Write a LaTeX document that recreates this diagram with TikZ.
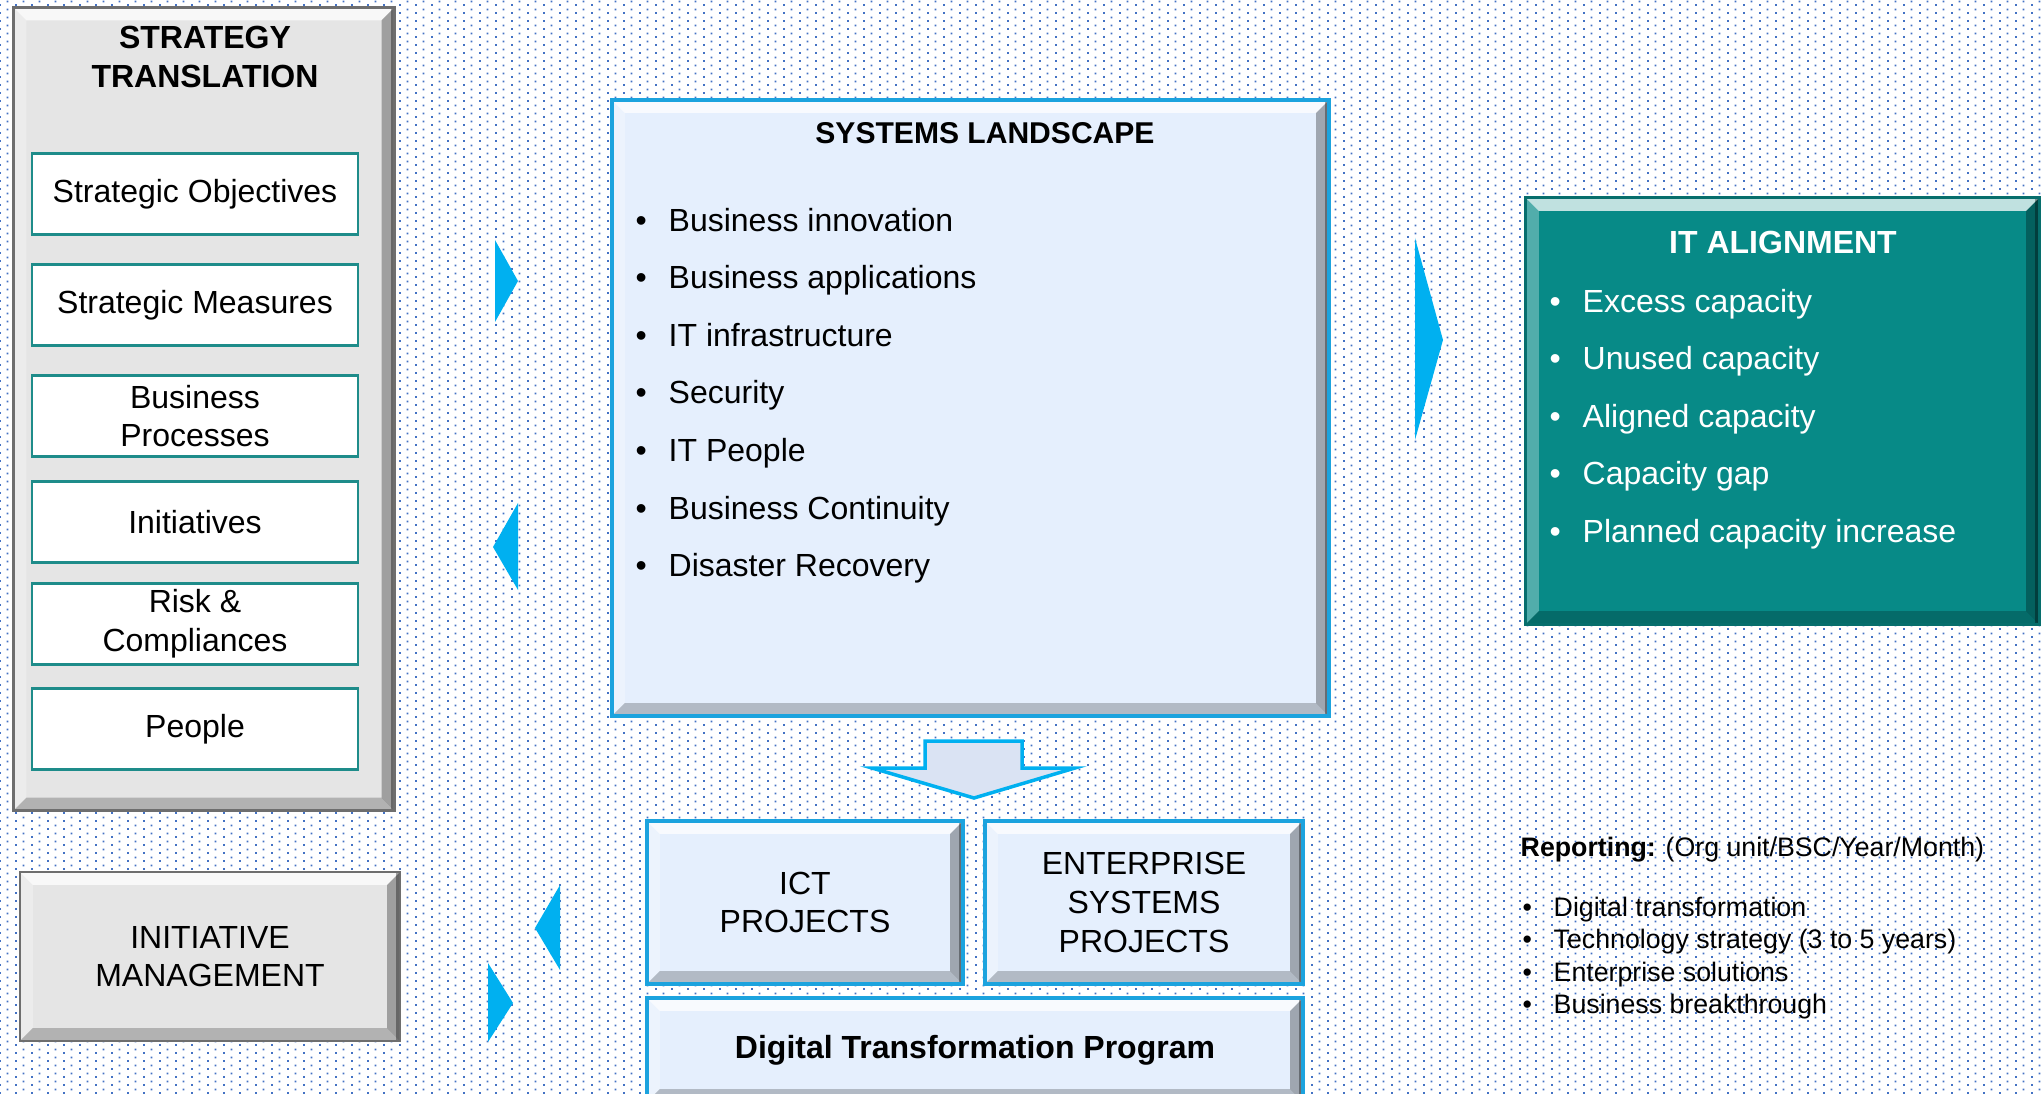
\documentclass[tikz,border=0pt]{standalone}
\usepackage{fontspec}
\setmainfont{Liberation Sans}
\usetikzlibrary{calc,patterns.meta,positioning}

\definecolor{dotblue}{HTML}{4472C4}
\definecolor{panelgray}{HTML}{E5E5E5}
\definecolor{edgegray}{HTML}{6E6E6E}
\definecolor{tealline}{HTML}{1E8C8A}
\definecolor{skyfill}{HTML}{E5EFFD}
\definecolor{skyline}{HTML}{1CA3DE}
\definecolor{tealfill}{HTML}{078A87}
\definecolor{arrowcyan}{HTML}{00B0F0}
\definecolor{downfill}{HTML}{DAE3F3}

\tikzdeclarepattern{
  name=bgdots, type=uncolored,
  bounding box={(0,0) and (1.6mm,0.8mm)},
  tile size={(1.6mm,0.8mm)},
  code={
    \fill (0mm,0mm) rectangle (0.2mm,0.2mm);
    \fill (0.8mm,0.4mm) rectangle (1.0mm,0.6mm);
  }
}

% bevel faces, drawn inside a box
\newcommand{\bevw}{1.3mm}
\newcommand{\bevelfaces}{%
  \fill[white,opacity=.75] let \p1=(path picture bounding box.north west),
      \p2=(path picture bounding box.south east) in
    (\x1,\y1) -- (\x2,\y1) -- (\x2-\bevw,\y1-\bevw) -- (\x1+\bevw,\y1-\bevw) -- cycle;
  \fill[white,opacity=.3] let \p1=(path picture bounding box.north west),
      \p2=(path picture bounding box.south east) in
    (\x1,\y1) -- (\x1,\y2) -- (\x1+\bevw,\y2+\bevw) -- (\x1+\bevw,\y1-\bevw) -- cycle;
  \fill[black,opacity=.22] let \p1=(path picture bounding box.north west),
      \p2=(path picture bounding box.south east) in
    (\x1,\y2) -- (\x2,\y2) -- (\x2-\bevw,\y2+\bevw) -- (\x1+\bevw,\y2+\bevw) -- cycle;
  \fill[black,opacity=.3] let \p1=(path picture bounding box.north west),
      \p2=(path picture bounding box.south east) in
    (\x2,\y1) -- (\x2,\y2) -- (\x2-\bevw,\y2+\bevw) -- (\x2-\bevw,\y1-\bevw) -- cycle;
  \fill[black,opacity=.35] let \p1=(path picture bounding box.north west),
      \p2=(path picture bounding box.south east) in
    (\x2-0.4mm,\y1) rectangle (\x2,\y2);
}

\tikzset{
  every node/.style={font=\fontsize{9.1}{11}\selectfont, align=center, inner sep=0pt},
  graybox/.style={draw=edgegray, line width=0.25mm, fill=panelgray, path picture=\bevelfaces},
  skybox/.style={draw=skyline, line width=0.35mm, fill=skyfill, path picture=\bevelfaces},
  tealbox/.style={draw=tealfill!80!black, line width=0.3mm, fill=tealfill, path picture=\bevelfaces},
  itembox/.style={draw=tealline, line width=0.25mm, fill=white, minimum width=32.6mm, minimum height=8.1mm},
  boxtitle/.style={font=\fontsize{9.1}{11}\selectfont\bfseries},
  listitem/.style={anchor=west, text height=1.6ex, text depth=.4ex},
  smalltext/.style={font=\fontsize{7.6}{9}\selectfont},
  pointer/.style={fill=arrowcyan},
}

\begin{document}
\begin{tikzpicture}[x=0.01cm, y=-0.01cm]
\useasboundingbox (0,0) rectangle (2041,1094);
\fill[white] (0,0) rectangle (2041,1094);
\fill[pattern=bgdots, pattern color=dotblue] (0,0) rectangle (2041,1094);

% strategy translation
\node[graybox, minimum width=38.1mm, minimum height=80.3mm] (strat) at (204,409) {};
\node[boxtitle] (strattitle) at (205,57) {STRATEGY\\TRANSLATION};
\foreach \lbl/\yy [count=\i] in {Strategic Objectives/194, Strategic Measures/305,
    Business\\Processes/416, Initiatives/522, Risk \&\\Compliances/624, People/729}
  \node[itembox] (st\i) at (195,\yy) {\lbl};

% systems landscape
\node[skybox, minimum width=71.7mm, minimum height=61.6mm] (sys) at (970.5,408) {};
\node[boxtitle, font=\fontsize{8.55}{11}\selectfont\bfseries] (systitle) at (985,133) {SYSTEMS LANDSCAPE};
\foreach \t [count=\i] in {Business innovation, Business applications, IT infrastructure,
    Security, IT People, Business Continuity, Disaster Recovery}
  \node[listitem] (sys\i) at (635,{220+57.6*(\i-1)}) {\makebox[3.3mm][l]{•}\t};

% it alignment
\node[tealbox, minimum width=51.3mm, minimum height=42.6mm] (itbox) at (1782.5,411) {};
\node[boxtitle, text=white] (ittitle) at (1783,242) {IT ALIGNMENT};
\foreach \t [count=\i] in {Excess capacity, Unused capacity, Aligned capacity,
    Capacity gap, Planned capacity increase}
  \node[listitem, text=white] (it\i) at (1549,{301+57.5*(\i-1)}) {\makebox[3.3mm][l]{•}\t};

% projects
\fill[downfill, draw=arrowcyan, line width=0.35mm] (925,741) -- (1022,741) -- (1022,768)
  -- (1075,768) -- (974,798) -- (872,768) -- (925,768) -- cycle;
\node[skybox, minimum width=31.6mm, minimum height=16.3mm] (ict) at (805,902.5) {ICT\\PROJECTS};
\node[skybox, minimum width=31.8mm, minimum height=16.3mm] (esp) at (1144,902.5) {ENTERPRISE\\SYSTEMS\\PROJECTS};
\node[skybox, boxtitle, minimum width=65.6mm, minimum height=10.4mm] (dtp) at (975,1050) {Digital Transformation Program};

\node[graybox, minimum width=38mm, minimum height=16.9mm] (initmgmt) at (210,956.5) {INITIATIVE\\MANAGEMENT};

% pointers
\fill[pointer] (495,240) -- (518,281) -- (495,322) -- cycle;
\fill[pointer] (518,503) -- (493,547) -- (518,590) -- cycle;
\fill[pointer] (1415,238) -- (1443,340) -- (1415,440) -- cycle;
\fill[pointer] (560,885) -- (535,928) -- (560,970) -- cycle;
\fill[pointer] (488,963) -- (513,1003) -- (488,1042) -- cycle;

% reporting
\node[listitem, smalltext] (rep) at (1520,845) {\textbf{Reporting:} (Org unit/BSC/Year/Month)};
\foreach \t [count=\i] in {Digital transformation, Technology strategy (3 to 5 years),
    Enterprise solutions, Business breakthrough}
  \node[listitem, smalltext] (rep\i) at (1522,{905+32.5*(\i-1)}) {\makebox[3.1mm][l]{•}\t};
\end{tikzpicture}
\end{document}
